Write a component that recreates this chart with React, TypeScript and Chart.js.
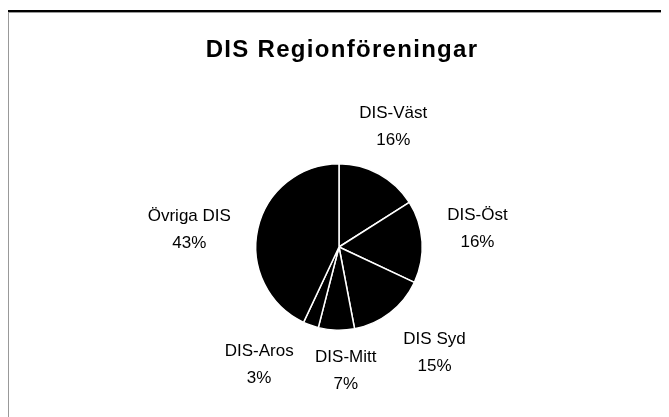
import React, { useEffect, useRef } from "react";
import { Chart, registerables } from "chart.js";

Chart.register(...registerables);

const TITLE = "DIS Regionföreningar";
const categories = ["DIS-Väst", "DIS-Öst", "DIS Syd", "DIS-Mitt", "DIS-Aros", "Övriga DIS"];
const shares = [16, 16, 15, 7, 3, 43];

const FONT = '"Liberation Sans", Arial, sans-serif';

type Box = { x: number; y: number; w: number; h: number };

const overlaps = (a: Box, b: Box, gap: number) =>
  Math.abs(a.x - b.x) < (a.w + b.w) / 2 + gap && Math.abs(a.y - b.y) < (a.h + b.h) / 2;

const labelPlugin = {
  id: "outsideLabels",
  afterDraw(chart: any) {
    const ctx = chart.ctx;
    ctx.save();
    // title
    ctx.fillStyle = "#000";
    ctx.font = `bold 24px ${FONT}`;
    try {
      (ctx as any).letterSpacing = "1.3px";
    } catch (e) {}
    ctx.textAlign = "center";
    ctx.textBaseline = "middle";
    ctx.fillText(TITLE, 342, 50);
    try {
      (ctx as any).letterSpacing = "0px";
    } catch (e) {}

    const meta = chart.getDatasetMeta(0);
    const data = chart.data.datasets[0].data as number[];
    const total = data.reduce((a, b) => a + b, 0);
    ctx.font = `17px ${FONT}`;
    const lineH = 27;
    const pad = 16;
    const padX = 8;
    const baseShift = 3;
    const shift = (-5 * Math.PI) / 180;
    const step = Math.PI / 180;
    const placed: Box[] = [];
    meta.data.forEach((arc: any, i: number) => {
      const { x, y, startAngle, endAngle, outerRadius } = arc.getProps(
        ["x", "y", "startAngle", "endAngle", "outerRadius"],
        true
      );
      const l1 = String(chart.data.labels[i]);
      const l2 = Math.round((data[i] / total) * 100) + "%";
      const w = Math.max(ctx.measureText(l1).width, ctx.measureText(l2).width);
      const h = lineH + 13;
      const place = (ang: number): Box => {
        const dx = Math.cos(ang);
        const dy = Math.sin(ang);
        const ext = Math.abs(dx) * (w / 2 + padX) + Math.abs(dy) * (h / 2);
        const d = outerRadius + pad + ext;
        return { x: x + dx * d, y: y + dy * d, w, h };
      };
      let ang = (startAngle + endAngle) / 2 + shift;
      let box = place(ang);
      let n = 0;
      while (placed.some((p) => overlaps(box, p, 20)) && n < 90) {
        ang += step;
        box = place(ang);
        n++;
      }
      placed.push(box);
      ctx.fillText(l1, box.x, box.y - lineH / 2 + baseShift);
      ctx.fillText(l2, box.x, box.y + lineH / 2 + baseShift);
    });
    ctx.restore();
  },
};

export default function App() {
  const ref = useRef<HTMLCanvasElement | null>(null);
  useEffect(() => {
    if (!ref.current) return;
    const chart = new Chart(ref.current, {
      type: "pie",
      data: {
        labels: categories,
        datasets: [
          {
            data: shares,
            backgroundColor: "#000000",
            borderColor: "#ffffff",
            borderWidth: 1.5,
          },
        ],
      },
      options: {
        responsive: false,
        animation: false,
        devicePixelRatio: 1,
        layout: { padding: { left: 255, right: 246, top: 163, bottom: 86 } },
        plugins: {
          legend: { display: false },
          tooltip: { enabled: false },
          title: { display: false },
        },
      },
      plugins: [labelPlugin],
    });
    return () => chart.destroy();
  }, []);

  return (
    <div
      style={{
        position: "relative",
        margin: "-8px 0 0 -8px",
        width: 669,
        height: 417,
        overflow: "hidden",
        background: "#fff",
      }}
    >
      <div
        style={{
          position: "absolute",
          left: 6,
          top: 10,
          width: 800,
          height: 600,
          borderLeft: "2px solid #000",
          borderTop: "2px solid #000",
          boxShadow: "inset 1px 1px 0 #999",
        }}
      />
      <canvas
        ref={ref}
        width={669}
        height={417}
        style={{ position: "absolute", left: 0, top: 0, width: 669, height: 417 }}
      />
    </div>
  );
}
